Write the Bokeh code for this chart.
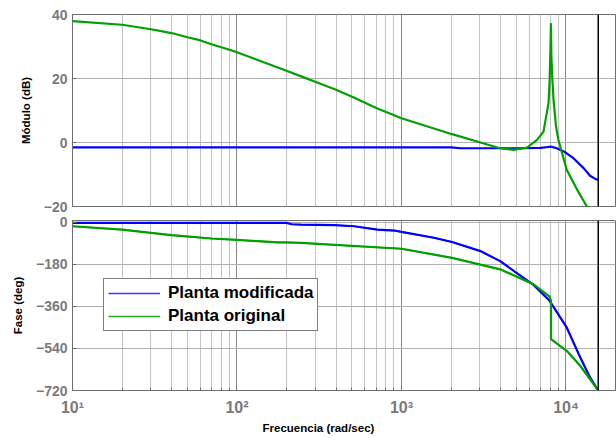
from bokeh.plotting import figure
from bokeh.layouts import column
from bokeh.models import FixedTicker, Span, Legend, LegendItem, Title
from bokeh.embed import file_html
from bokeh.resources import INLINE

# ---------------- data ----------------
nyquist = 15708.0

mag_blue_f = [10, 1000, 2000, 2300, 5000, 7000, 7800, 8100, 8800, 9700, 11100, 12800, 14000, 15000, 15708]
mag_blue_db = [-1.5, -1.5, -1.5, -1.8, -1.8, -1.7, -1.4, -1.3, -1.8, -2.8, -4.9, -8.0, -10.4, -11.3, -11.7]

mag_green_f = [10, 20, 30, 40, 50, 60, 70, 90, 100, 200, 250, 310, 400, 505, 708, 1000, 2030, 3020,
               3980, 4800, 5800, 6670, 7300, 7830, 7950, 8050, 8100, 8150, 8250, 8400, 8700, 9000,
               10100, 11700, 13400, 15708]
mag_green_db = [37.9, 36.8, 35.4, 34.2, 32.9, 31.9, 30.7, 29.0, 28.2, 22.4, 20.5, 18.7, 16.5, 14.2, 10.7, 7.6, 2.6, 0.0,
                -1.8, -2.3, -1.6, 0.8, 3.4, 12.3, 19.0, 30.0, 37.3, 27.0, 20.6, 13.3, 5.0, 0.8,
                -8.5, -14.8, -20.0, -24.5]

ph_blue_f = [10, 200, 215, 245, 390, 515, 715, 905, 1000, 1575, 2030, 3020, 3980, 5000, 6350, 7950,
             10100, 12200, 14000, 15708]
ph_blue_deg = [-2, -2, -8, -9.5, -12, -16.6, -31, -35, -41, -66, -84, -123, -166, -216, -268, -336,
               -450, -578, -664, -720]

ph_green_f = [10, 20, 30, 40, 70, 100, 177, 200, 245, 310, 1000, 2030, 3980, 6350, 7950, 8100, 8110,
              10100, 12200, 15708]
ph_green_deg = [-16.6, -31, -45, -55, -69, -75, -86, -86, -88, -92, -113, -152, -201, -265, -318, -335, -500,
                -550, -614, -720]

mag_ticks = [-20, 0, 20, 40]
phase_ticks = [-720, -540, -360, -180, 0]
freq_ticks = [10, 100, 1000, 10000]
freq_tick_labels = ["10¹", "10²", "10³", "10⁴"]
legend_labels = ["Planta modificada", "Planta original"]

BLUE = "#0000FF"
GREEN = "#00A000"
FONT = "Liberation Sans"
TICK_COL = "#7a7a7a"
FRAME_COL = "#6e6e6e"

minor = [k * 10 ** d for d in range(1, 5) for k in range(2, 10) if k * 10 ** d < 2e4]


def style(p, yticks, ylabel):
    p.background_fill_color = "white"
    p.border_fill_color = "white"
    p.outline_line_color = FRAME_COL
    p.outline_line_width = 1
    p.xaxis.ticker = FixedTicker(ticks=freq_ticks, minor_ticks=minor)
    p.xgrid.grid_line_color = "#8a8a8a"
    p.xgrid.grid_line_width = 1
    p.xgrid.minor_grid_line_color = "#c4c4c4"
    p.xgrid.minor_grid_line_width = 1
    p.yaxis.ticker = FixedTicker(ticks=yticks)
    p.ygrid.grid_line_color = "#b0b0b0"
    p.ygrid.grid_line_width = 1
    ax = p.yaxis[0]
    ax.axis_label = ylabel
    ax.axis_label_text_font = FONT
    ax.axis_label_text_font_style = "bold"
    ax.axis_label_text_font_size = "11.5px"
    ax.axis_label_text_color = "black"
    ax.axis_label_standoff = 9
    ax.major_label_text_font = FONT
    ax.major_label_text_font_style = "bold"
    ax.major_label_text_font_size = "14px"
    ax.major_label_text_color = TICK_COL
    ax.major_label_standoff = 5
    ax.major_tick_in = 4
    ax.major_tick_out = 0
    ax.major_tick_line_color = FRAME_COL
    ax.minor_tick_line_color = None
    ax.axis_line_color = FRAME_COL
    p.add_layout(Span(location=nyquist, dimension="height", line_color="black", line_width=1.5))


# ---------------- magnitude ----------------
top = figure(x_axis_type="log", x_range=(10, 2e4), y_range=(-20, 40),
             frame_width=543, frame_height=192,
             min_border_left=72, min_border_right=1, min_border_top=14, min_border_bottom=8,
             output_backend="svg", toolbar_location=None)
style(top, mag_ticks, "Módulo (dB)")
top.xaxis.visible = False
top.line(mag_blue_f, mag_blue_db, line_color=BLUE, line_width=2.2)
top.line(mag_green_f, mag_green_db, line_color=GREEN, line_width=2.2)

# ---------------- phase ----------------
bot = figure(x_axis_type="log", x_range=top.x_range, y_range=(-720, 8),
             frame_width=543, frame_height=170,
             min_border_left=72, min_border_right=1, min_border_top=6, min_border_bottom=10,
             output_backend="svg", toolbar_location=None)
style(bot, phase_ticks, "Fase (deg)")
xa = bot.xaxis[0]
xa.major_label_overrides = {float(t): lab for t, lab in zip(freq_ticks, freq_tick_labels)}
xa.major_label_text_font = FONT
xa.major_label_text_font_style = "bold"
xa.major_label_text_font_size = "16px"
xa.major_label_text_color = TICK_COL
xa.major_label_standoff = 8
xa.major_tick_in = 5
xa.major_tick_out = 0
xa.minor_tick_in = 3
xa.minor_tick_out = 0
xa.major_tick_line_color = FRAME_COL
xa.minor_tick_line_color = FRAME_COL
xa.axis_line_color = FRAME_COL

xtitle = Title(text="Frecuencia  (rad/sec)", align="left", offset=190, standoff=2,
               text_font=FONT, text_font_style="bold", text_font_size="11.5px",
               text_color="black")
bot.add_layout(xtitle, "below")

# thin copies underneath give the legend its thin sample lines
lb = bot.line(ph_blue_f, ph_blue_deg, line_color="#3a3aff", line_width=1.4)
lg = bot.line(ph_green_f, ph_green_deg, line_color="#1faa1f", line_width=1.4)
bot.line(ph_blue_f, ph_blue_deg, line_color=BLUE, line_width=2.2)
bot.line(ph_green_f, ph_green_deg, line_color=GREEN, line_width=2.2)

legend = Legend(items=[LegendItem(label=legend_labels[0], renderers=[lb]),
                       LegendItem(label=legend_labels[1], renderers=[lg])],
                location=(31, 59), orientation="vertical")
legend.border_line_color = "black"
legend.border_line_width = 1.5
legend.background_fill_color = "white"
legend.background_fill_alpha = 1
legend.label_text_font = FONT
legend.label_text_font_style = "bold"
legend.label_text_font_size = "17px"
legend.label_text_color = "black"
legend.label_height = 18
legend.glyph_width = 52
legend.glyph_height = 18
legend.label_standoff = 8
legend.padding = 4
legend.spacing = 3
legend.margin = 0
bot.add_layout(legend)

layout = column(top, bot, spacing=0)
open("out.html", "w").write(file_html(layout, INLINE))
